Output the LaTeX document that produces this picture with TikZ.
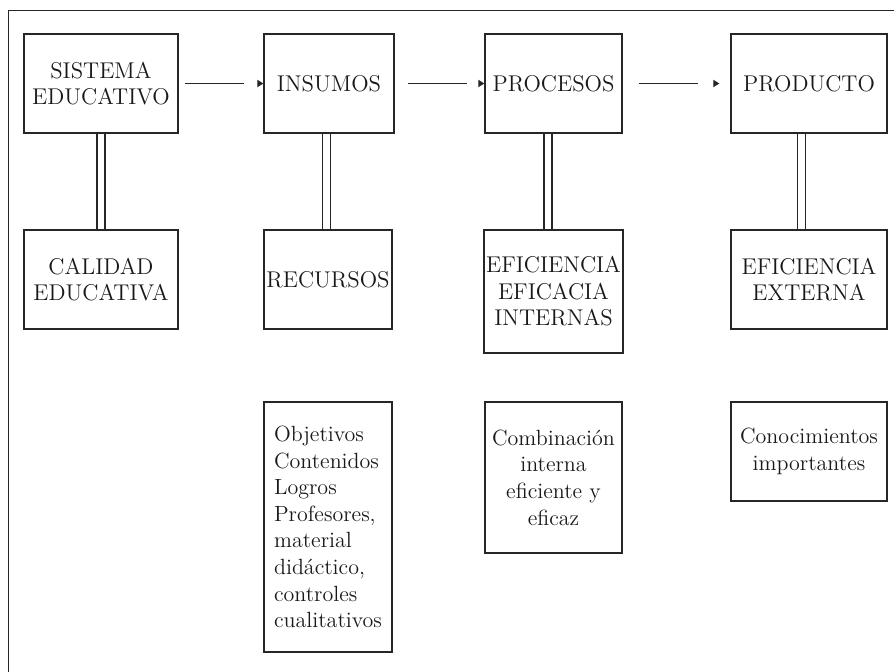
\documentclass[tikz,border=0pt]{standalone}
\usetikzlibrary{arrows.meta}
\begin{document}
\begin{tikzpicture}[x=0.5pt, y=-0.5pt,
    box/.style={draw=black!85, line width=.7pt, inner sep=1pt, align=center,
      minimum height=49.5pt, text=black!90, font=\fontsize{11}{13.3}\selectfont},
    caps/.style={box, font=\fontsize{11.4}{13.3}\selectfont},
    flow/.style={draw=black!85, line width=.6pt, -{Triangle[length=3pt, width=3.6pt]},
      dash pattern=on 29.5pt off 40pt},
    link/.style={draw=black!85, line width=.75pt, double, double distance=3.3pt}]
  \useasboundingbox (0,0) rectangle (894,672);

  % Marco
  \draw[black!85, line width=.7pt] (8.5,672) -- (8.5,10.5) -- (894,10.5);

  % Fila superior
  \node[caps, minimum width=77pt]   (sistema)  at (101,83.5)   {SISTEMA\\EDUCATIVO};
  \node[caps, minimum width=65pt]   (insumos)  at (329,83.5)   {INSUMOS};
  \node[caps, minimum width=68.5pt] (procesos) at (553.5,83.5) {PROCESOS};
  \node[caps, minimum width=78pt]   (producto) at (809,83.5)   {PRODUCTO};

  % Segunda fila
  \node[caps, minimum width=77pt]   (calidad)  at (101,279.5)  {CALIDAD\\EDUCATIVA};
  \node[caps, minimum width=64pt]   (recursos) at (328,279.5)  {RECURSOS};
  \node[caps, minimum width=68.5pt, minimum height=61.5pt]
                                    (interna)  at (553.5,291.5) {EFICIENCIA\\EFICACIA\\INTERNAS};
  \node[caps, minimum width=78pt]   (externa)  at (809,279.5)  {EFICIENCIA\\EXTERNA};

  % Tercera fila
  \node[box, align=left, minimum width=64pt, minimum height=125pt]
    (objetivos) at (328,527) {Objetivos\\Contenidos\\Logros\\Profesores,\\material\\did\'actico,\\controles\\cualitativos};
  \node[box, minimum width=68.5pt, minimum height=75.5pt]
    (combinacion) at (553.5,477.5) {Combinaci\'on\\interna\\eficiente y\\eficaz};
  \node[box, minimum width=78pt]
    (conocimientos) at (809,451.5) {Conocimientos\\importantes};

  % Flechas
  \draw[flow, shorten <=3pt] (sistema.east) -- (insumos.west);
  \draw[flow, shorten <=6.5pt] (insumos.east) -- (procesos.west);
  \draw[flow, shorten <=8pt, shorten >=5.5pt] (procesos.east) -- (producto.west);

  % Enlaces dobles
  \draw[link] (sistema.south) -- (calidad.north);
  \draw[link] ([xshift=-1.25pt]insumos.south) -- ([xshift=-.75pt]recursos.north);
  \draw[link] ([xshift=-2.75pt]procesos.south) -- ([xshift=-2.75pt]interna.north);
  \draw[link] ([xshift=-3.75pt]producto.south) -- ([xshift=-3.75pt]externa.north);
\end{tikzpicture}
\end{document}
